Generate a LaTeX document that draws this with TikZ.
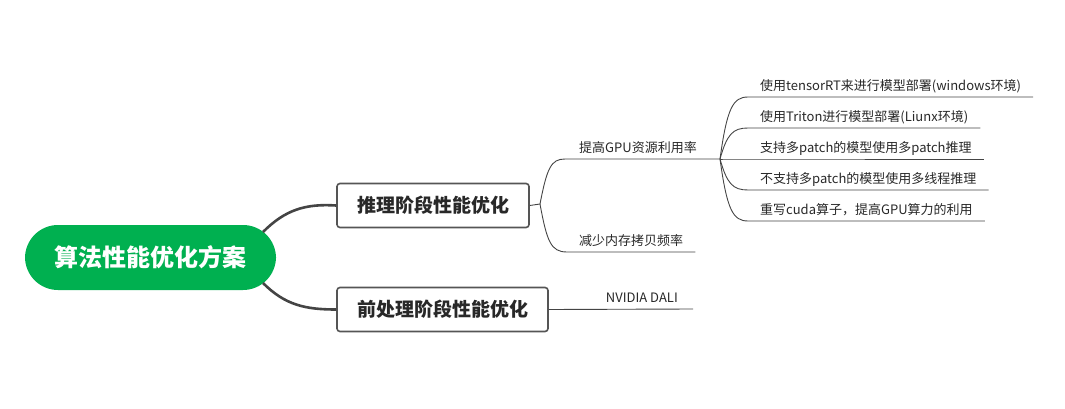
\documentclass[tikz,border=0pt]{standalone}
\usepackage{fontspec}
\setmainfont{Noto Sans CJK SC}
\begin{document}
\begin{tikzpicture}[x=1pt,y=-1pt,
  rootnode/.style={fill=rootgreen, rounded corners=33pt, minimum width=251pt, minimum height=65pt, text=white, font=\fontsize{24}{28}\selectfont\bfseries, inner sep=0pt},
  mainbox/.style={draw=boxgray, line width=1.6pt, rounded corners=3pt, fill=white, minimum height=44pt, inner xsep=0pt, text=textgray, font=\fontsize{19}{22}\selectfont\bfseries},
  thickline/.style={draw=linegray, line width=2.6pt},
  thinline/.style={draw=linegray, line width=0.9pt},
  leaf/.style={inner xsep=12pt, inner ysep=3pt, text height=10pt, text depth=3pt, text=textgray, font=\fontsize{13}{15}\selectfont},
]
\definecolor{rootgreen}{RGB}{0,176,80}
\definecolor{boxgray}{RGB}{85,85,85}
\definecolor{linegray}{RGB}{68,68,68}
\definecolor{textgray}{RGB}{40,40,40}
\useasboundingbox (0,0) rectangle (1065,409);

% nodes
\node[rootnode] (root) at (150.5,257.5) {算法性能优化方案};
\node[mainbox, minimum width=192pt] (b1) at (433,205.5) {推理阶段性能优化};
\node[mainbox, minimum width=211pt] (b2) at (442.5,309.5) {前处理阶段性能优化};

\coordinate (r1) at (263,232);
\coordinate (r2) at (263,283);
\coordinate (b1e) at (540,204);
\coordinate (bp) at (720,159);

\node[leaf, anchor=south west, inner xsep=14pt] (m1) at (565,159) {提高GPU资源利用率};
\node[leaf, anchor=south west] (m2) at (567,252) {减少内存拷贝频率};
\node[leaf, anchor=south east, inner xsep=15pt] (d) at (693,309) {NVIDIA DALI};

\node[leaf, anchor=south west] (l1) at (748,97) {使用tensorRT来进行模型部署(windows环境)};
\node[leaf, anchor=south west] (l2) at (748,128) {使用Triton进行模型部署(Liunx环境)};
\node[leaf, anchor=south west] (l3) at (748,159) {支持多patch的模型使用多patch推理};
\node[leaf, anchor=south west] (l4) at (748,190) {不支持多patch的模型使用多线程推理};
\node[leaf, anchor=south west] (l5) at (748,221) {重写cuda算子，提高GPU算力的利用};

% thick connectors
\draw[thickline] (r1) .. controls (285,210) and (305,203.5) .. (b1.west);
\draw[thickline] (r2) .. controls (285,305) and (305,309.5) .. (b2.west);

% thin connectors
\draw[thinline] (b1.east) -- (b1e);
\draw[thinline] (b1e) .. controls (547,168) and (551,159) .. (m1.south west) -- (bp);
\draw[thinline] (b1e) .. controls (547,242) and (551,252) .. (m2.south west) -- (m2.south east);
\draw[thinline] (b2.east) -- (d.south east);

\foreach \n/\cy/\ly in {l1/108/97, l2/134/128, l3/159/159, l4/184/190, l5/210/221} {
  \draw[thinline] (bp) .. controls (727,\cy) and (733,\ly) .. (\n.south west) -- (\n.south east);
}
\end{tikzpicture}
\end{document}
